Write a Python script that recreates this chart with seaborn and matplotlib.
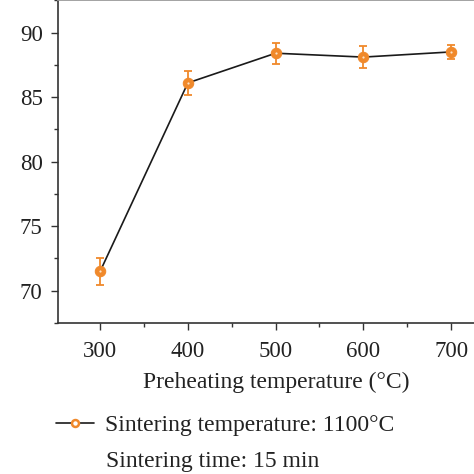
import numpy as np
import pandas as pd
import seaborn as sns
from matplotlib import pyplot as plt
from matplotlib.lines import Line2D
from matplotlib.ticker import MultipleLocator

# values
preheat_temp = [300, 400, 500, 600, 700]
density = [71.5, 86.1, 88.4, 88.1, 88.5]
density_err = [1.05, 0.9, 0.8, 0.85, 0.55]

orange = '#F0892B'

sns.set_style('ticks')
plt.rcParams['font.family'] = ['Liberation Serif', 'DejaVu Serif']

df = pd.DataFrame({'temp': preheat_temp, 'density': density, 'err': density_err})

fig = plt.figure(figsize=(4.74, 4.74), dpi=100)
# axes runs off the right and top edges like the cropped reference
ax = fig.add_axes([58 / 474, 151 / 474, (520 - 58) / 474, 324 / 474])

ax.errorbar(df['temp'], df['density'], yerr=df['err'], fmt='none',
            ecolor=orange, elinewidth=1.3, capsize=2.8, capthick=1.3, zorder=2)
sns.lineplot(data=df, x='temp', y='density', ax=ax, color='#1a1a1a', linewidth=1.2,
             marker='o', markersize=7.5, markerfacecolor=orange,
             markeredgecolor=orange, zorder=3)
ax.plot(df['temp'], df['density'], 'o', markersize=1.6, color='#FBE3C8', zorder=4,
        markeredgewidth=0)

ax.set_xlim(252, 252 + (520 - 58) / 0.8775)
ax.set_ylim(67.5, 92.6)
ax.xaxis.set_major_locator(MultipleLocator(100))
ax.xaxis.set_minor_locator(MultipleLocator(50))
ax.yaxis.set_major_locator(MultipleLocator(5))
ax.yaxis.set_minor_locator(MultipleLocator(2.5))
ax.tick_params(which='major', length=5, width=1, labelsize=16.5, color='#333333',
               labelcolor='#222222', direction='out')
ax.tick_params(axis='y', which='major', pad=6)
ax.tick_params(axis='x', which='major', pad=8)
ax.tick_params(which='minor', length=3, width=1, color='#333333', direction='out')
ax.set_xticks(preheat_temp)
ax.set_xticklabels([str(t) for t in preheat_temp])

for s in ['left', 'bottom']:
    ax.spines[s].set_color('#333333')
    ax.spines[s].set_linewidth(1.2)
ax.spines['top'].set_color('#999999')
ax.spines['top'].set_linewidth(2)
ax.spines['right'].set_visible(False)

ax.set_xlabel('Preheating temperature (°C)', fontsize=17, color='#222222')
ax.xaxis.set_label_coords((276 - 58) / (520 - 58), -0.15)
ax.set_ylabel('')

handle = Line2D([], [], color='#1a1a1a', linewidth=1.2, marker='o', markersize=5,
                markerfacecolor='white', markeredgecolor=orange, markeredgewidth=1.8)
fig.legend([handle], ['Sintering temperature: 1100°C'], loc='center left',
           bbox_to_anchor=(35 / 474, 1 - 425 / 474), frameon=False, fontsize=17,
           handlelength=1.6, handletextpad=0.45, labelcolor='#222222')
fig.text(106 / 474, 1 - 461 / 474, 'Sintering time: 15 min', fontsize=17,
         color='#222222', va='center', ha='left')

plt.savefig('out.png', dpi=100)
